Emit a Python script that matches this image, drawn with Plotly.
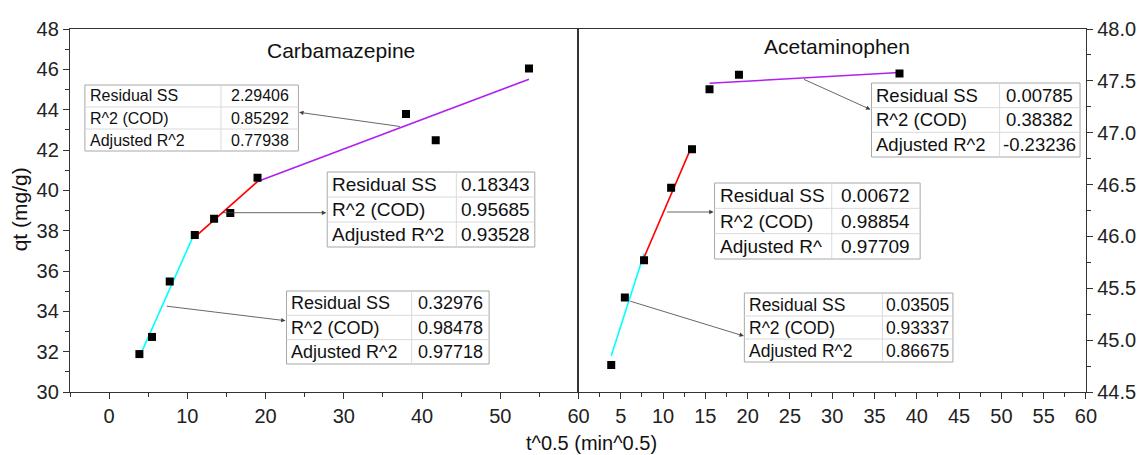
import numpy as np
import plotly.graph_objects as go

# ---------------- data ----------------
cbz_x = [3.87, 5.48, 7.75, 10.95, 13.42, 15.49, 18.97, 37.95, 41.75, 53.67]
cbz_y = [31.88, 32.73, 35.48, 37.79, 38.59, 38.88, 40.62, 43.78, 42.48, 46.04]
cbz_segments = [(0, 4), (3, 7), (6, 10)]

apap_x = [3.87, 5.48, 7.75, 10.95, 13.42, 15.49, 18.97, 37.95]
apap_y = [44.76, 45.41, 45.77, 46.47, 46.84, 47.42, 47.56, 47.57]
apap_segments = [(0, 3), (2, 5), (5, 8)]

seg_colors = ["#00FFFF", "#FF0000", "#B020F0"]

table_labels = ["Residual SS", "R^2 (COD)", "Adjusted R^2"]
cbz_stats = [
    ["0.32976", "0.98478", "0.97718"],
    ["0.18343", "0.95685", "0.93528"],
    ["2.29406", "0.85292", "0.77938"],
]
apap_stats = [
    ["0.03505", "0.93337", "0.86675"],
    ["0.00672", "0.98854", "0.97709"],
    ["0.00785", "0.38382", "-0.23236"],
]
apap_labels_mid = ["Residual SS", "R^2 (COD)", "Adjusted R^"]

titles = ["Carbamazepine", "Acetaminophen"]
y_title = "qt (mg/g)"
x_title = "t^0.5 (min^0.5)"

# ---------------- layout helpers ----------------
W, H = 1148, 455
L, R, T, B = 70, 1093, 29, 392


def px(x):
    return (x - L) / (R - L)


def py(y):
    return (B - y) / (B - T)


FONT = "Liberation Sans, Arial, sans-serif"
AX = "#333333"

fig = go.Figure()

# markers and fitted lines
for xs, ys, segs, xa, ya in [
    (cbz_x, cbz_y, cbz_segments, "x", "y"),
    (apap_x, apap_y, apap_segments, "x2", "y2"),
]:
    for (a, b), c in zip(segs, seg_colors):
        sx = np.array(xs[a:b])
        sy = np.array(ys[a:b])
        k, m = np.polyfit(sx, sy, 1)
        lx = np.array([sx[0], sx[-1]])
        fig.add_trace(go.Scatter(x=lx, y=k * lx + m, mode="lines",
                                 line=dict(color=c, width=1.6),
                                 xaxis=xa, yaxis=ya, showlegend=False,
                                 hoverinfo="skip"))
    fig.add_trace(go.Scatter(x=xs, y=ys, mode="markers",
                             marker=dict(symbol="square", size=8, color="black"),
                             xaxis=xa, yaxis=ya, showlegend=False))

shapes = []
annotations = []


def add_table(x0, y0, x1, y1, xdiv, labels, values, fs):
    n = len(labels)
    rh = (y1 - y0) / n
    shapes.append(dict(type="rect", xref="paper", yref="paper",
                       x0=px(x0), x1=px(x1), y0=py(y1), y1=py(y0),
                       line=dict(color="#A8A8A8", width=1), fillcolor="white",
                       layer="above"))
    for i in range(1, n):
        yy = y0 + i * rh
        shapes.append(dict(type="line", xref="paper", yref="paper",
                           x0=px(x0), x1=px(x1), y0=py(yy), y1=py(yy),
                           line=dict(color="#DADADA", width=1), layer="above"))
    shapes.append(dict(type="line", xref="paper", yref="paper",
                       x0=px(xdiv), x1=px(xdiv), y0=py(y1), y1=py(y0),
                       line=dict(color="#DADADA", width=1), layer="above"))
    for i, (lab, val) in enumerate(zip(labels, values)):
        yc = y0 + (i + 0.5) * rh
        annotations.append(dict(xref="paper", yref="paper", x=px(x0 + 3), y=py(yc),
                                text=lab, showarrow=False, xanchor="left",
                                yanchor="middle",
                                font=dict(family=FONT, size=fs, color="#111")))
        annotations.append(dict(xref="paper", yref="paper", x=px((xdiv + x1) / 2),
                                y=py(yc), text=val, showarrow=False,
                                xanchor="center", yanchor="middle",
                                font=dict(family=FONT, size=fs, color="#111")))


def add_arrow(tail, tip):
    annotations.append(dict(xref="paper", yref="paper", x=px(tip[0]), y=py(tip[1]),
                            ax=tail[0] - tip[0], ay=tail[1] - tip[1],
                            text="", showarrow=True, arrowhead=2, arrowsize=1.1,
                            arrowwidth=0.8, arrowcolor="#404040", standoff=0,
                            startstandoff=0))


# tables (left panel)
add_table(288, 291, 492, 364, 414, table_labels, cbz_stats[0], 18)
add_table(329, 172, 538, 247, 459, table_labels, cbz_stats[1], 19)
add_table(85, 85, 300, 151, 222, table_labels, cbz_stats[2], 16)
# tables (right panel)
add_table(749, 293, 959, 362, 888, table_labels, apap_stats[0], 17.5)
add_table(719, 183, 926, 259, 837, apap_labels_mid, apap_stats[1], 19)
add_table(877, 83, 1087, 157, 1006, table_labels, apap_stats[2], 18.5)

add_arrow((166.7, 306), (287, 320.7))
add_arrow((222, 212.7), (328, 212.7))
add_arrow((403, 126.7), (300.7, 112.3))
add_arrow((633.3, 300.7), (748.5, 336))
add_arrow((670, 212), (718, 212))
add_arrow((808, 78.7), (876, 109.5))

# panel titles
annotations.append(dict(xref="paper", yref="paper", x=px(343), y=py(50),
                        text=titles[0], showarrow=False, xanchor="center",
                        yanchor="middle", font=dict(family=FONT, size=21, color="#111")))
annotations.append(dict(xref="paper", yref="paper", x=px(842), y=py(47),
                        text=titles[1], showarrow=False, xanchor="center",
                        yanchor="middle", font=dict(family=FONT, size=21, color="#111")))
# axis titles
annotations.append(dict(xref="paper", yref="paper", x=px(19), y=py(209),
                        text=y_title, showarrow=False, textangle=-90,
                        xanchor="center", yanchor="middle",
                        font=dict(family=FONT, size=21, color="#111")))
annotations.append(dict(xref="paper", yref="paper", x=px(595), y=py(455),
                        text=x_title, showarrow=False, xanchor="center",
                        yanchor="bottom", borderpad=0,
                        font=dict(family=FONT, size=20, color="#111")))

xdiv = px(582)
tickfont = dict(family=FONT, size=20, color="#222")
common = dict(showgrid=False, zeroline=False, showline=True, linecolor=AX,
              linewidth=1.4, mirror=True, ticks="outside", ticklen=6,
              tickwidth=1.3, tickcolor=AX, tickfont=tickfont)

fig.update_layout(
    width=W, height=H,
    margin=dict(l=L, r=W - R, t=T, b=H - B),
    paper_bgcolor="white", plot_bgcolor="white",
    xaxis=dict(domain=[0, xdiv], range=[-5, 60], tick0=0, dtick=10, anchor="y",
               minor=dict(ticks="outside", ticklen=3.5, tickcolor=AX, dtick=5, tick0=0),
               **common),
    yaxis=dict(domain=[0, 1], range=[30, 48], tick0=30, dtick=2, anchor="x",
               minor=dict(ticks="outside", ticklen=3.5, tickcolor=AX, dtick=1, tick0=30),
               **common),
    xaxis2=dict(domain=[xdiv, 1], range=[0, 60], anchor="y2",
                tickvals=list(range(5, 61, 5)),
                minor=dict(ticks="outside", ticklen=3.5, tickcolor=AX, dtick=2.5, tick0=0),
                **common),
    yaxis2=dict(domain=[0, 1], range=[44.5, 48], anchor="x2", side="right",
                tick0=44.5, dtick=0.5, tickformat=".1f",
                minor=dict(ticks="outside", ticklen=3.5, tickcolor=AX, dtick=0.25, tick0=44.5),
                **common),
    shapes=shapes,
    annotations=annotations,
)

fig.write_html("out.html")
